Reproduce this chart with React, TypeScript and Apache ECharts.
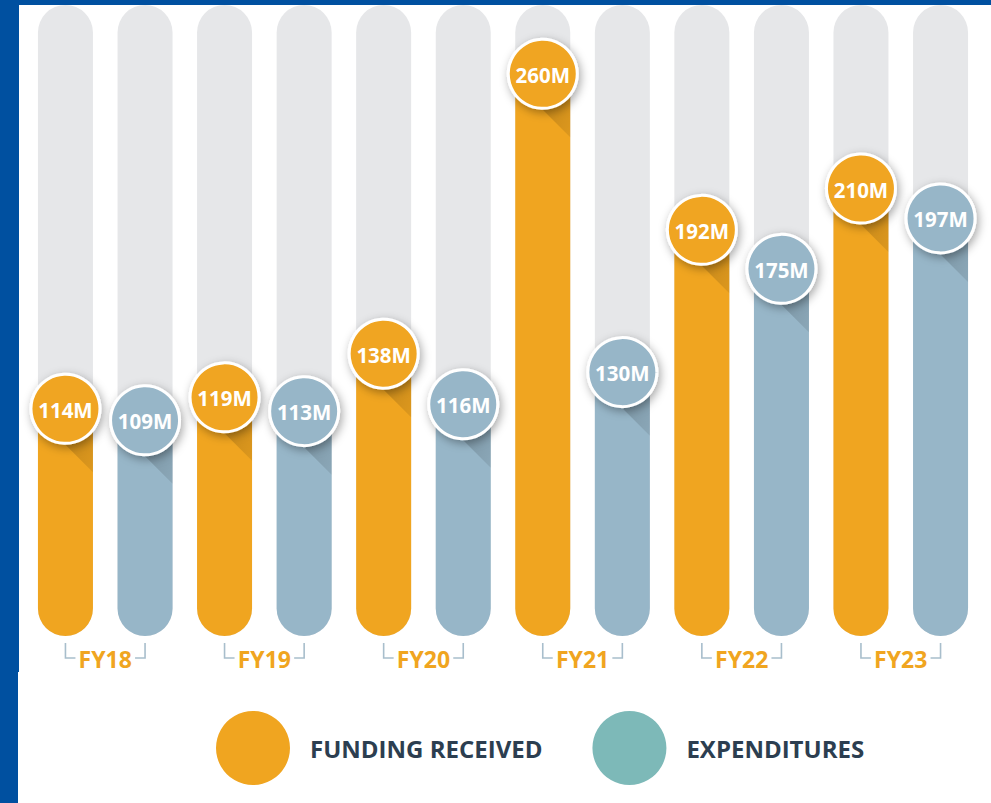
import React, { useEffect, useRef } from "react";
import * as echarts from "echarts";

const categories = ["FY18", "FY19", "FY20", "FY21", "FY22", "FY23"];
const fundingReceived = [114, 119, 138, 260, 192, 210];
const expenditures = [109, 113, 116, 130, 175, 197];
const seriesNames = ["FUNDING RECEIVED", "EXPENDITURES"];

const AXIS_MIN = 15;
const AXIS_MAX = 290;
const BAR_W = 55;
const PAIR_OFFSET = 39.8;
const CIRCLE_R = 36;

const ORANGE = "#F0A520";
const STEEL = "#97B6C8";
const TEAL = "#7DB9B8";
const TRACK = "#E6E7E9";
const BLUE = "#0050A0";

function makeRender(offset: number, color: string) {
  return (params: any, api: any) => {
    const cat = api.value(0);
    const v = api.value(1);
    const top = api.coord([cat, AXIS_MAX]);
    const bottom = api.coord([cat, AXIS_MIN]);
    const pt = api.coord([cat, v]);
    const cx = pt[0] + offset;
    const cy = pt[1];
    const hw = BAR_W / 2;
    return {
      type: "group",
      children: [
        {
          type: "rect",
          shape: { x: cx - hw, y: top[1], width: BAR_W, height: bottom[1] - top[1], r: hw },
          style: { fill: TRACK },
        },
        {
          type: "rect",
          shape: { x: cx - hw, y: cy, width: BAR_W, height: bottom[1] - cy, r: [0, 0, hw, hw] },
          style: { fill: color },
        },
        {
          type: "polygon",
          shape: {
            points: [
              [cx, cy],
              [cx, cy + CIRCLE_R],
              [cx + hw, cy + CIRCLE_R + hw],
              [cx + hw, cy],
            ],
          },
          style: {
            fill: new echarts.graphic.LinearGradient(0, 0, 1, 1, [
              { offset: 0, color: "rgba(0,0,0,0.2)" },
              { offset: 1, color: "rgba(0,0,0,0.08)" },
            ]),
          },
        },
        {
          type: "circle",
          shape: { cx, cy, r: CIRCLE_R - 1.5 },
          style: {
            fill: color,
            stroke: "#ffffff",
            lineWidth: 3,
            shadowBlur: 10,
            shadowColor: "rgba(0,0,0,0.35)",
            shadowOffsetX: 2,
            shadowOffsetY: 3,
          },
        },
        {
          type: "text",
          style: {
            x: cx,
            y: cy + 1,
            text: v + "M",
            fill: "#ffffff",
            font: 'bold 20.5px "Open Sans"',
            align: "center",
            verticalAlign: "middle",
          },
        },
      ],
    };
  };
}

function bracketRender(params: any, api: any) {
  const cat = api.value(0);
  const pt = api.coord([cat, AXIS_MIN]);
  const lx = pt[0] - PAIR_OFFSET;
  const rx = pt[0] + PAIR_OFFSET;
  const y0 = pt[1] + 7;
  const y1 = pt[1] + 22;
  const st = { stroke: "#A8BECC", lineWidth: 1.6, fill: null };
  return {
    type: "group",
    children: [
      { type: "polyline", shape: { points: [[lx, y0], [lx, y1], [lx + 10, y1]] }, style: st },
      { type: "polyline", shape: { points: [[rx - 10, y1], [rx, y1], [rx, y0]] }, style: st },
    ],
  };
}

export default function App() {
  const ref = useRef<HTMLDivElement>(null);
  useEffect(() => {
    if (!ref.current) return;
    const chart = echarts.init(ref.current, null, { renderer: "svg" });
    chart.setOption({
      animation: false,
      backgroundColor: "#ffffff",
      grid: { left: 25.7, right: 10.7, top: 5, bottom: 167 },
      xAxis: {
        type: "category",
        data: categories,
        axisLine: { show: false },
        axisTick: { show: false },
        axisLabel: {
          color: ORANGE,
          fontSize: 23,
          fontWeight: "bold",
          fontFamily: "Open Sans",
          margin: 11,
        },
      },
      yAxis: { type: "value", min: AXIS_MIN, max: AXIS_MAX, show: false },
      legend: {
        left: 216,
        top: 711,
        padding: 0,
        itemWidth: 74,
        itemHeight: 74,
        itemGap: 50,
        icon: "circle",
        selectedMode: false,
        textStyle: {
          fontSize: 24,
          fontWeight: "bold",
          fontFamily: "Open Sans",
          color: "#2C3E50",
          padding: [0, 0, 0, 15],
        },
        data: [
          { name: seriesNames[0], itemStyle: { color: ORANGE } },
          { name: seriesNames[1], itemStyle: { color: TEAL } },
        ],
      },
      graphic: [
        { type: "rect", shape: { x: 0, y: 0, width: 991, height: 5 }, style: { fill: BLUE } },
        { type: "rect", shape: { x: 0, y: 0, width: 19, height: 672 }, style: { fill: BLUE } },
        { type: "rect", shape: { x: 0, y: 672, width: 18, height: 131 }, style: { fill: BLUE } },
      ],
      series: [
        {
          type: "custom",
          name: seriesNames[0],
          itemStyle: { color: ORANGE },
          renderItem: makeRender(-PAIR_OFFSET, ORANGE),
          data: fundingReceived.map((v, i) => [i, v]),
        },
        {
          type: "custom",
          name: seriesNames[1],
          itemStyle: { color: TEAL },
          renderItem: makeRender(PAIR_OFFSET, STEEL),
          data: expenditures.map((v, i) => [i, v]),
        },
        {
          type: "custom",
          name: "brackets",
          renderItem: bracketRender,
          data: categories.map((c, i) => [i, AXIS_MIN]),
          silent: true,
        },
      ],
    });
    return () => chart.dispose();
  }, []);
  return (
    <div
      ref={ref}
      style={{ position: "fixed", left: 0, top: 0, width: 991, height: 803 }}
    />
  );
}
